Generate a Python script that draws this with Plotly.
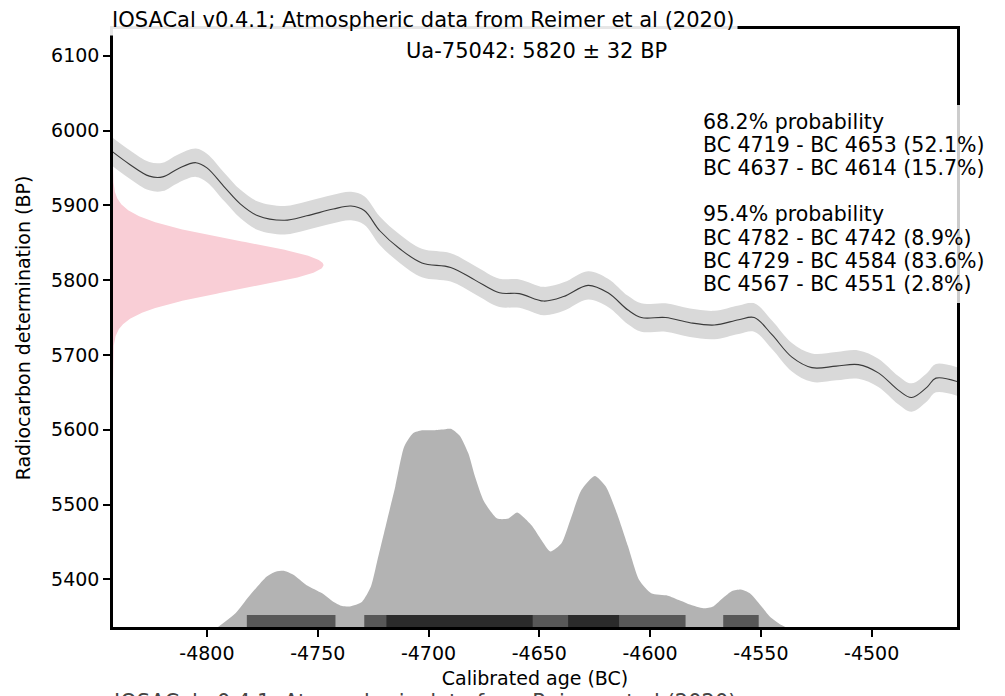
import numpy as np
import plotly.graph_objects as go

# ---------------- data ----------------
# calibration curve segment (years BC as negative numbers, radiocarbon age BP)
curve_years = [-4845, -4835, -4826, -4820, -4813, -4805, -4800, -4792, -4785, -4777,
               -4765, -4755, -4743, -4735, -4729, -4722, -4713, -4703, -4690, -4679,
               -4668, -4659, -4648, -4639, -4628, -4619, -4610, -4604, -4593, -4582,
               -4571, -4560, -4553, -4545, -4536, -4527, -4516, -4506, -4497, -4488,
               -4482, -4475, -4471, -4458]
curve_bp = [5977, 5955, 5939, 5938, 5949, 5957, 5950, 5924, 5902, 5886,
            5880, 5886, 5895, 5899, 5893, 5866, 5842, 5823, 5817, 5800,
            5783, 5782, 5772, 5778, 5793, 5783, 5760, 5750, 5750, 5743,
            5740, 5747, 5750, 5727, 5697, 5683, 5685, 5687, 5676, 5653,
            5643, 5657, 5669, 5661]
curve_err = [19, 19, 19, 19, 19, 19, 19, 19, 19, 19,
             19, 19, 19, 19, 19, 19, 19, 19, 19, 19,
             19, 19, 19, 19, 19, 19, 19, 19, 19, 19,
             19, 19, 19, 19, 19, 19, 19, 19, 19, 19,
             19, 19, 19, 19]

# calibrated probability distribution (relative, peak = 1)
prob_years = [-4795, -4787, -4781, -4773, -4769, -4765, -4761, -4755, -4748, -4743,
              -4739, -4735.5, -4730, -4726, -4723, -4719, -4715, -4711, -4707, -4703,
              -4698, -4694, -4690, -4686, -4682, -4679, -4675, -4669, -4664, -4660,
              -4656.5, -4653, -4649, -4645, -4640, -4636, -4631, -4625, -4620, -4615,
              -4610, -4605, -4599.5, -4592, -4587, -4582, -4576, -4571.5, -4567, -4563,
              -4559, -4555, -4551, -4546, -4541, -4539]
prob_rel = [0, .071, .155, .255, .279, .283, .264, .211, .170, .128,
            .106, .104, .128, .204, .340, .525, .709, .909, .977, .992,
            .992, .996, 1.0, .966, .875, .758, .634, .547, .547, .577,
            .547, .506, .438, .381, .423, .540, .691, .762, .709, .574,
            .408, .238, .170, .158, .136, .113, .094, .104, .147, .181,
            .189, .170, .121, .053, .011, 0]

# radiocarbon determination
date_name = "Ua-75042"
date_bp = 5820
date_sigma = 32

# highest density ranges (start, end) in years BC (negative)
range68_start = [-4719, -4637]
range68_end = [-4653, -4614]
range95_start = [-4782, -4729, -4567]
range95_end = [-4742, -4584, -4551]

legend_lines = ["68.2% probability",
                "BC 4719 - BC 4653 (52.1%)",
                "BC 4637 - BC 4614 (15.7%)",
                "",
                "95.4% probability",
                "BC 4782 - BC 4742 (8.9%)",
                "BC 4729 - BC 4584 (83.6%)",
                "BC 4567 - BC 4551 (2.8%)"]

x_ticks = [-4800, -4750, -4700, -4650, -4600, -4550, -4500]
x_tick_labels = ["-4800", "-4750", "-4700", "-4650", "-4600", "-4550", "-4500"]
y_ticks = [5400, 5500, 5600, 5700, 5800, 5900, 6000, 6100]
y_tick_labels = ["5400", "5500", "5600", "5700", "5800", "5900", "6000", "6100"]

title_text = "IOSACal v0.4.1; Atmospheric data from Reimer et al (2020)"

# ---------------- layout constants ----------------
W, H = 1005, 696
ML, MR, MT, MB = 113, 48, 29, 69
PW, PH = W - ML - MR, H - MT - MB
X_RANGE = [-4842.4, -4461.5]
Y_RANGE = [5336.3, 6135.7]
FONT = "DejaVu Sans"


def py(pix):  # pixel y (from top) -> paper y
    return (H - MB - pix) / PH


def px(pix):  # pixel x -> paper x
    return (pix - ML) / PW


fig = go.Figure()

# radiocarbon date normal curve on the y axis
yy = np.linspace(date_bp - 5 * date_sigma, date_bp + 5 * date_sigma, 400)
dens = np.exp(-0.5 * ((yy - date_bp) / date_sigma) ** 2)
gx = X_RANGE[0] + 95 * dens
fig.add_trace(go.Scatter(x=np.concatenate([[X_RANGE[0]], gx, [X_RANGE[0]]]),
                         y=np.concatenate([[yy[0]], yy, [yy[-1]]]),
                         fill="toself", fillcolor="#f9ced6", line=dict(width=0),
                         mode="lines", hoverinfo="skip"))

# calibration curve band
up = [b + e for b, e in zip(curve_bp, curve_err)]
lo = [b - e for b, e in zip(curve_bp, curve_err)]
fig.add_trace(go.Scatter(x=curve_years, y=lo, mode="lines", line=dict(width=0, shape="spline"),
                         hoverinfo="skip"))
fig.add_trace(go.Scatter(x=curve_years, y=up, mode="lines", line=dict(width=0, shape="spline"),
                         fill="tonexty", fillcolor="#d9d9d9", hoverinfo="skip"))
fig.add_trace(go.Scatter(x=curve_years, y=curve_bp, mode="lines",
                         line=dict(color="#3a3a3a", width=1.1, shape="spline"), hoverinfo="skip"))

# calibrated probability
base = Y_RANGE[0]
fig.add_trace(go.Scatter(x=prob_years, y=[base] * len(prob_years), mode="lines",
                         line=dict(width=0), hoverinfo="skip"))
fig.add_trace(go.Scatter(x=prob_years, y=[base + 265 * p for p in prob_rel], mode="lines",
                         line=dict(width=0, shape="spline", smoothing=0.6), fill="tonexty",
                         fillcolor="#b3b3b3", hoverinfo="skip"))


# HPD range bars (rectangles drawn in data coordinates)
def rects(starts, ends, y0, y1):
    xs, ys = [], []
    for s, e in zip(starts, ends):
        xs += [s, e, e, s, s, None]
        ys += [y0, y0, y1, y1, y0, None]
    return xs, ys


bar_h = 16
bx, by = rects(range95_start, range95_end, base, base + bar_h)
fig.add_trace(go.Scatter(x=bx, y=by, mode="lines", fill="toself", fillcolor="#585858",
                         line=dict(width=0), hoverinfo="skip"))
bx, by = rects(range68_start, range68_end, base, base + bar_h)
fig.add_trace(go.Scatter(x=bx, y=by, mode="lines", fill="toself", fillcolor="#2b2b2b",
                         line=dict(width=0), hoverinfo="skip"))

axis_common = dict(showline=True, linecolor="black", linewidth=2.5, mirror=True,
                   ticks="outside", ticklen=7, tickwidth=2, tickcolor="black",
                   showgrid=False, zeroline=False,
                   tickfont=dict(family=FONT, size=19, color="black"))

fig.update_layout(
    width=W, height=H, margin=dict(l=ML, r=MR, t=MT, b=MB, autoexpand=False),
    plot_bgcolor="white", paper_bgcolor="white", showlegend=False,
    font=dict(family=FONT, color="black"),
    xaxis=dict(range=X_RANGE, tickvals=x_ticks, ticktext=x_tick_labels,
               title=dict(text="Calibrated age (BC)", font=dict(family=FONT, size=19), standoff=10),
               **axis_common),
    yaxis=dict(range=Y_RANGE, tickvals=y_ticks, ticktext=y_tick_labels,
               title=dict(text="Radiocarbon determination (BP)", font=dict(family=FONT, size=19),
                          standoff=16),
               **axis_common),
)

# legend white box
fig.add_shape(type="rect", xref="paper", yref="paper", x0=px(700), x1=px(1003), y0=py(303), y1=py(105),
              fillcolor="rgba(255,255,255,0.8)", line=dict(width=0), layer="above")

annotations = []
annotations.append(dict(text=title_text, xref="paper", yref="paper", x=px(108), y=py(20),
                        xanchor="left", yanchor="middle", showarrow=False,
                        font=dict(family=FONT, size=21, color="black"),
                        bgcolor="rgba(255,255,255,0.9)", borderpad=3))
annotations.append(dict(text=title_text, xref="paper", yref="paper", x=px(112), y=py(688),
                        xanchor="left", yanchor="top", showarrow=False,
                        font=dict(family=FONT, size=21, color="#444444")))
annotations.append(dict(text=f"{date_name}: {date_bp} \u00b1 {date_sigma} BP", xref="paper",
                        yref="paper", x=px(536), y=py(51), xanchor="center", yanchor="middle",
                        showarrow=False, font=dict(family=FONT, size=21, color="black")))
for i, line in enumerate(legend_lines):
    if not line:
        continue
    annotations.append(dict(text=line, xref="paper", yref="paper", x=px(701), y=py(122 + 23.1 * i),
                            xanchor="left", yanchor="middle", showarrow=False,
                            font=dict(family=FONT, size=20.5, color="black")))
fig.update_layout(annotations=annotations)

fig.write_html("out.html")
